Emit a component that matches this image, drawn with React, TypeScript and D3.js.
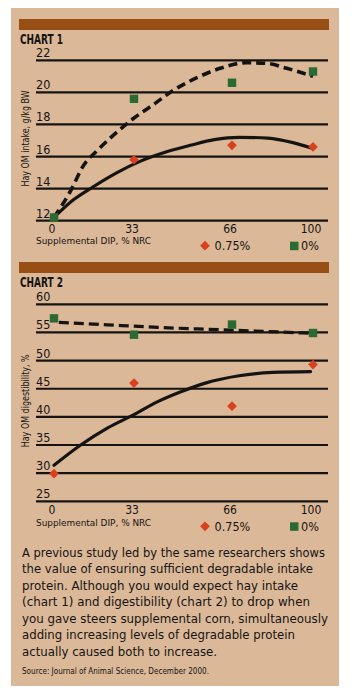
import * as d3 from "d3";

// x categories: supplemental DIP, % NRC
const dipLevels = [0, 33, 66, 100];
const dipLabels = ["0", "33", "66", "100"];

// chart 1: hay OM intake, g/kg BW
const intakeTicks = [12, 14, 16, 18, 20, 22];
const intakeCorn075 = [12.2, 15.8, 16.7, 16.6];
const intakeCorn0 = [12.2, 19.6, 20.6, 21.3];
const intakeFitX075 = [0, 8, 16, 26, 35, 44, 52, 60, 69, 81, 92, 100];
const intakeFitY075 = [12.2, 13.3, 14.1, 15.0, 15.7, 16.3, 16.7, 17.05, 17.2, 17.15, 16.85, 16.5];
const intakeFitX0 = [0, 7, 12, 18, 25, 33, 40, 46, 54, 62, 72, 81, 89, 100];
const intakeFitY0 = [12.2, 13.9, 15.4, 16.4, 17.4, 18.4, 19.3, 20.1, 20.9, 21.5, 21.85, 21.8, 21.5, 21.0];

// chart 2: hay OM digestibility, %
const digestTicks = [25, 30, 35, 40, 45, 50, 55, 60];
const digestCorn075 = [29.9, 46.0, 41.9, 49.3];
const digestCorn0 = [57.5, 54.6, 56.4, 54.9];
const digestFitX075 = [0, 11, 22, 33, 41, 49, 57, 69, 83, 99];
const digestFitY075 = [31.4, 35.0, 38.0, 40.4, 42.7, 44.5, 46.0, 47.3, 47.9, 48.05];
const digestFitX0 = [2, 22, 41, 58, 76, 99];
const digestFitY0 = [56.8, 56.35, 55.9, 55.55, 55.25, 54.85];

const legendLabels = ["0.75%", "0%"];

const paragraph = [
  "A previous study led by the same researchers shows",
  "the value of ensuring sufficient degradable intake",
  "protein. Although you would expect hay intake",
  "(chart 1) and digestibility (chart 2) to drop when",
  "you gave steers supplemental corn, simultaneously",
  "adding increasing levels of degradable protein",
  "actually caused both to increase.",
];
const paragraphWidths = [303, 291, 276, 288, 306, 273, 195];
const source = "Source: Journal of Animal Science, December 2000.";

const TAN = "#dbb898";
const BROWN = "#974f16";
const GREEN = "#2b6a33";
const RED = "#d8401e";
const INK = "#161412";
const COND = "'Liberation Sans Narrow', 'DejaVu Sans Condensed', 'Roboto Condensed', 'Arial Narrow', sans-serif";

const x = d3.scaleLinear().domain(dipLevels).range([54, 134, 232, 313]);

interface PanelProps {
  title: string;
  yTitle: string;
  yTitleLen: number;
  barTop: number;
  ticks: number[];
  yRange: [number, number];
  xTitleDy: number;
  corn075: number[];
  corn0: number[];
  fitX075: number[];
  fitY075: number[];
  fitX0: number[];
  fitY0: number[];
  dash: string;
  dashWidth: number;
}

function Panel(p: PanelProps) {
  const y = d3
    .scaleLinear()
    .domain([p.ticks[0], p.ticks[p.ticks.length - 1]])
    .range(p.yRange);
  const line = d3
    .line<number>()
    .x((d) => x(d))
    .curve(d3.curveMonotoneX);
  const solid = line.y((_, i) => y(p.fitY075[i]))(p.fitX075) ?? "";
  const dashed = line.y((_, i) => y(p.fitY0[i]))(p.fitX0) ?? "";
  const base = p.yRange[0];
  const yMid = (p.yRange[0] + p.yRange[1]) / 2 - 2;
  const diamond = d3.symbol(d3.symbolDiamond2, 60)() ?? "";

  return (
    <g>
      <rect x={19} y={p.barTop} width={310} height={11} fill={BROWN} />
      <text
        x={20}
        y={p.barTop + 24.5}
        fontFamily={COND}
        fontStretch="condensed"
        fontWeight="bold"
        fontSize={14.5}
        fill={INK}
        textLength={43}
        lengthAdjust="spacingAndGlyphs"
      >
        {p.title}
      </text>
      {p.ticks.map((t) => (
        <g key={t}>
          <line x1={36} x2={328} y1={y(t)} y2={y(t)} stroke={INK} strokeWidth={2.2} />
          <text
            x={36}
            y={y(t) - 3}
            fontFamily={COND}
            fontStretch="condensed"
            fontSize={12.5}
            fill={INK}
          >
            {t}
          </text>
        </g>
      ))}
      <text
        transform={`translate(${29},${yMid}) rotate(-90)`}
        textAnchor="middle"
        fontFamily={COND}
        fontStretch="condensed"
        fontSize={10}
        fill={INK}
        textLength={p.yTitleLen}
        lengthAdjust="spacingAndGlyphs"
      >
        {p.yTitle}
      </text>
      {dipLevels.map((d, i) => (
        <text
          key={d}
          x={x(d) - 2}
          y={base + 12.4}
          textAnchor="middle"
          fontFamily={COND}
          fontStretch="condensed"
          fontSize={12}
          fill={INK}
        >
          {dipLabels[i]}
        </text>
      ))}
      <text
        x={36}
        y={base + p.xTitleDy}
        fontFamily={COND}
        fontStretch="condensed"
        fontSize={9.5}
        fill={INK}
        textLength={115}
        lengthAdjust="spacingAndGlyphs"
      >
        Supplemental DIP, % NRC
      </text>
      <path d={diamond} transform={`translate(205,${base + 25})`} fill={RED} />
      <text
        x={214.5}
        y={base + 29.4}
        fontFamily={COND}
        fontStretch="condensed"
        fontSize={12.5}
        fill={INK}
      >
        {legendLabels[0]}
      </text>
      <rect x={290} y={base + 21} width={8.5} height={8.5} fill={GREEN} />
      <text
        x={301}
        y={base + 29.4}
        fontFamily={COND}
        fontStretch="condensed"
        fontSize={12.5}
        fill={INK}
      >
        {legendLabels[1]}
      </text>
      <path d={dashed} fill="none" stroke={INK} strokeWidth={p.dashWidth} strokeDasharray={p.dash} />
      <path d={solid} fill="none" stroke={INK} strokeWidth={3.2} strokeLinecap="round" />
      {dipLevels.map((d, i) => (
        <path key={d} d={diamond} transform={`translate(${x(d)},${y(p.corn075[i])})`} fill={RED} />
      ))}
      {dipLevels.map((d, i) => (
        <rect
          key={d}
          x={x(d) - 4.2}
          y={y(p.corn0[i]) - 4.2}
          width={8.4}
          height={8.4}
          fill={GREEN}
        />
      ))}
    </g>
  );
}

export default function App() {
  return (
    <svg
      width={354}
      height={696}
      style={{ position: "absolute", left: 0, top: 0, display: "block" }}
    >
      <rect width={354} height={696} fill="#fff" />
      <rect x={11} y={8} width={328} height={678} fill={TAN} />
      <Panel
        title="CHART 1"
        yTitle="Hay OM intake, g/kg BW"
        yTitleLen={96}
        barTop={19}
        ticks={intakeTicks}
        yRange={[220.7, 60.3]}
        xTitleDy={23}
        corn075={intakeCorn075}
        corn0={intakeCorn0}
        fitX075={intakeFitX075}
        fitY075={intakeFitY075}
        fitX0={intakeFitX0}
        fitY0={intakeFitY0}
        dash="9 5"
        dashWidth={3.6}
      />
      <Panel
        title="CHART 2"
        yTitle="Hay OM digestibility, %"
        yTitleLen={93}
        barTop={262}
        ticks={digestTicks}
        yRange={[501.3, 304.3]}
        xTitleDy={25}
        corn075={digestCorn075}
        corn0={digestCorn0}
        fitX075={digestFitX075}
        fitY075={digestFitY075}
        fitX0={digestFitX0}
        fitY0={digestFitY0}
        dash="10 5"
        dashWidth={3.2}
      />
      {paragraph.map((s, i) => (
        <text
          key={i}
          x={22}
          y={556.7 + i * 16.55}
          fontFamily={COND}
          fontStretch="condensed"
          fontSize={13}
          fill={INK}
          textLength={paragraphWidths[i]}
          lengthAdjust="spacingAndGlyphs"
        >
          {s}
        </text>
      ))}
      <text
        x={22}
        y={674}
        fontFamily={COND}
        fontStretch="condensed"
        fontSize={8.5}
        fill={INK}
        textLength={187}
        lengthAdjust="spacingAndGlyphs"
      >
        {source}
      </text>
    </svg>
  );
}
